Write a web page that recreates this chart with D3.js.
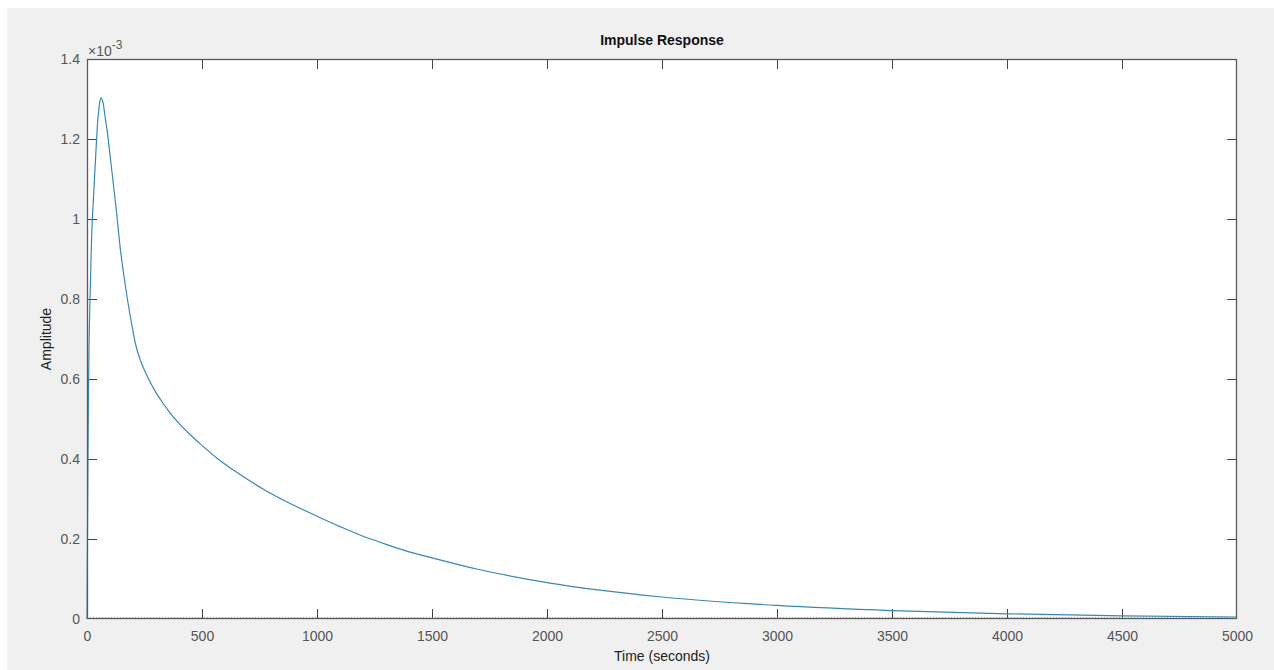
<!DOCTYPE html>
<html>
<head>
<meta charset="utf-8">
<script src="https://cdn.jsdelivr.net/npm/d3@7"></script>
<style>
  html, body { margin: 0; padding: 0; background: #ffffff; }
  svg { display: block; }
  text { font-family: "Liberation Sans", Arial, sans-serif; }
</style>
</head>
<body>
<svg id="chart" width="1274" height="670"></svg>
<script>
// Impulse response samples: time in seconds, amplitude in units of 1e-3
const timeSec = [0, 3, 6, 9, 14, 23, 27, 38, 46, 55, 61, 70, 80, 90, 100, 125, 146, 160, 177, 195, 210, 230, 250, 275, 300, 330, 360, 400, 450, 500, 564, 630, 709, 780, 853, 1000, 1100, 1200, 1274, 1400, 1500, 1694, 2000, 2500, 3000, 3500, 4000, 4500, 5000];
const amplitude = [0, 0.30, 0.55, 0.69, 0.82, 1.00, 1.04, 1.16, 1.24, 1.29, 1.303, 1.29, 1.25, 1.21, 1.16, 1.035, 0.92, 0.86, 0.795, 0.735, 0.69, 0.65, 0.622, 0.592, 0.566, 0.540, 0.516, 0.489, 0.460, 0.434, 0.4025, 0.375, 0.345, 0.320, 0.2975, 0.257, 0.231, 0.207, 0.192, 0.168, 0.153, 0.125, 0.091, 0.055, 0.034, 0.021, 0.013, 0.008, 0.005];

const xTicks = [0, 500, 1000, 1500, 2000, 2500, 3000, 3500, 4000, 4500, 5000];
const yTicks = [0, 0.2, 0.4, 0.6, 0.8, 1, 1.2, 1.4];

const titleText = "Impulse Response";
const xLabel = "Time (seconds)";
const yLabel = "Amplitude";

const svg = d3.select("#chart");
const W = 1274, H = 670;
const plot = { left: 87, top: 59, right: 1237, bottom: 619 };

// figure background
svg.append("rect").attr("x", 7).attr("y", 8).attr("width", W - 7).attr("height", H - 8).attr("fill", "#f0f0f0");
// axes background
svg.append("rect").attr("x", plot.left).attr("y", plot.top)
  .attr("width", plot.right - plot.left).attr("height", plot.bottom - plot.top).attr("fill", "#ffffff");

const x = d3.scaleLinear().domain([0, 5000]).range([plot.left, plot.right]);
const y = d3.scaleLinear().domain([0, 1.4]).range([plot.bottom, plot.top]);

const tickLen = 10;
const axisColor = "#5a5a5a";
const labelColor = "#555555";

// bottom axis with inward ticks
const xAxis = d3.axisBottom(x).tickValues(xTicks).tickSize(-tickLen).tickPadding(tickLen + 7).tickFormat(d3.format("d"));
const gx = svg.append("g").attr("transform", `translate(0,${plot.bottom})`).call(xAxis);
// top axis (ticks only)
const gxt = svg.append("g").attr("transform", `translate(0,${plot.top})`)
  .call(d3.axisTop(x).tickValues(xTicks).tickSize(-tickLen).tickFormat(""));
// left axis
const yAxis = d3.axisLeft(y).tickValues(yTicks).tickSize(-tickLen).tickPadding(tickLen + 7).tickFormat(d => d === 0 ? "0" : (d === 1 ? "1" : d3.format(".1f")(d)));
const gy = svg.append("g").attr("transform", `translate(${plot.left},0)`).call(yAxis);
// right axis (ticks only)
const gyr = svg.append("g").attr("transform", `translate(${plot.right},0)`)
  .call(d3.axisRight(y).tickValues(yTicks).tickSize(-tickLen).tickFormat(""));

[gx, gxt, gy, gyr].forEach(g => {
  g.select(".domain").remove();
  g.selectAll(".tick line").attr("stroke", "#444").attr("stroke-width", 1);
  g.selectAll(".tick text").attr("fill", labelColor).style("font-size", "14px");
});
// drop end ticks that coincide with the box edges
gx.selectAll(".tick line").filter(d => d === 0 || d === 5000).remove();
gxt.selectAll(".tick line").filter(d => d === 0 || d === 5000).remove();
gy.selectAll(".tick line").filter(d => d === 0 || d === 1.4).remove();
gyr.selectAll(".tick line").filter(d => d === 0 || d === 1.4).remove();
gx.selectAll(".tick text").attr("dy", "0.71em").attr("y", 12);
gy.selectAll(".tick text").attr("x", -7);

// dotted zero reference line
svg.append("line")
  .attr("x1", x(0)).attr("x2", x(5000)).attr("y1", y(0) - 1).attr("y2", y(0) - 1)
  .attr("stroke", "#555").attr("stroke-width", 1).attr("stroke-dasharray", "1,2");

// response curve
const pts = timeSec.map((t, i) => [t, amplitude[i]]);
const line = d3.line().x(d => x(d[0])).y(d => y(d[1])).curve(d3.curveMonotoneX);
svg.append("path").datum(pts)
  .attr("d", line).attr("fill", "none")
  .attr("stroke", "#3489ba").attr("stroke-width", 1.2);

// axes box
svg.append("rect").attr("x", plot.left + 0.5).attr("y", plot.top + 0.5)
  .attr("width", plot.right - plot.left - 1).attr("height", plot.bottom - plot.top - 1)
  .attr("fill", "none").attr("stroke", axisColor).attr("stroke-width", 1.3);

// exponent multiplier
const mult = svg.append("text").attr("x", plot.left + 1).attr("y", 56)
  .attr("fill", labelColor).style("font-size", "14px");
mult.append("tspan").text("\u00d710");
mult.append("tspan").attr("dy", -7).style("font-size", "12px").text("-3");

// title and axis labels
svg.append("text").attr("x", (plot.left + plot.right) / 2).attr("y", 45)
  .attr("text-anchor", "middle").attr("fill", "#111").style("font-size", "14px").style("font-weight", "bold")
  .text(titleText);
svg.append("text").attr("x", (plot.left + plot.right) / 2).attr("y", 661)
  .attr("text-anchor", "middle").attr("fill", "#222").style("font-size", "14px")
  .text(xLabel);
svg.append("text").attr("transform", `translate(51,${(plot.top + plot.bottom) / 2}) rotate(-90)`)
  .attr("text-anchor", "middle").attr("fill", "#222").style("font-size", "14px")
  .text(yLabel);
</script>
</body>
</html>
